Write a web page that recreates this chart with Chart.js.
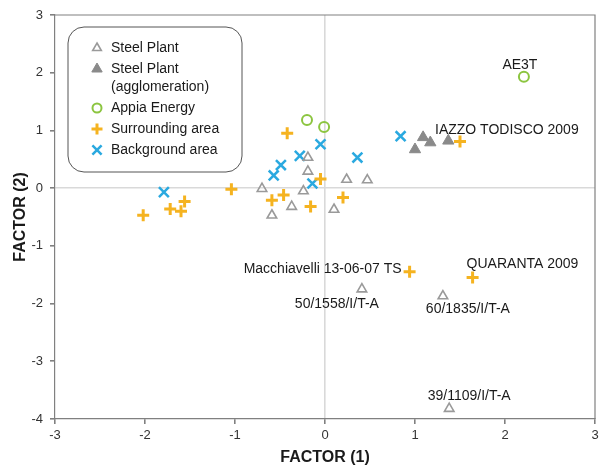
<!DOCTYPE html>
<html>
<head>
<meta charset="utf-8">
<script src="https://cdn.jsdelivr.net/npm/chart.js@4"></script>
<style>
  html, body { margin: 0; padding: 0; background: #fff; }
</style>
</head>
<body>
<canvas id="chart" width="599" height="470"></canvas>
<script>
// Factor scores: [FACTOR (1), FACTOR (2)]
const steelPlant = [
  [-0.70, -0.01], [-0.59, -0.47], [-0.37, -0.32], [-0.24, -0.05],
  [-0.19, 0.53], [-0.19, 0.29], [0.10, -0.37], [0.24, 0.15],
  [0.47, 0.14], [0.41, -1.75], [1.31, -1.87], [1.38, -3.82]
];
const steelAgglo = [[1.09, 0.88], [1.17, 0.79], [1.00, 0.67], [1.37, 0.82]];
const appiaEnergy = [[-0.20, 1.18], [-0.01, 1.06], [2.21, 1.93]];
const surrounding = [
  [-2.02, -0.47], [-1.72, -0.36], [-1.60, -0.40], [-1.56, -0.23],
  [-1.04, -0.02], [-0.59, -0.21], [-0.46, -0.12], [-0.42, 0.95],
  [-0.16, -0.32], [-0.05, 0.16], [0.20, -0.16], [1.50, 0.81],
  [0.94, -1.45], [1.64, -1.55]
];
const background = [
  [-1.79, -0.07], [-0.57, 0.22], [-0.49, 0.40], [-0.28, 0.56],
  [-0.14, 0.08], [-0.05, 0.76], [0.36, 0.53], [0.84, 0.90]
];

// named samples and the point each one belongs to
const noteTexts = ['AE3T', 'IAZZO TODISCO 2009', 'Macchiavelli 13-06-07 TS', 'QUARANTA 2009',
  '50/1558/I/T-A', '60/1835/I/T-A', '39/1109/I/T-A'];
const notePoints = [[2.21, 1.93], [1.50, 0.81], [0.94, -1.45], [1.64, -1.55],
  [0.41, -1.75], [1.31, -1.87], [1.38, -3.82]];

const xTicks = [-3, -2, -1, 0, 1, 2, 3];
const yTicks = [-4, -3, -2, -1, 0, 1, 2, 3];

const FONT = '"Liberation Sans", Arial, Helvetica, sans-serif';
const toXY = arr => arr.map(p => ({ x: p[0], y: p[1] }));

// where each note sits relative to its point (pixels)
const noteOffsets = [
  { dx: -4, dy: -12, align: 'center' },
  { dx: -25, dy: -11, align: 'left' },
  { dx: -8, dy: -3, align: 'right' },
  { dx: -6, dy: -13, align: 'left' },
  { dx: -25, dy: 15, align: 'center' },
  { dx: 25, dy: 13, align: 'center' },
  { dx: 20, dy: -12, align: 'center' }
];

const pointNotes = {
  id: 'pointNotes',
  afterDatasetsDraw(chart) {
    const { ctx, scales } = chart;
    ctx.save();
    ctx.font = '14px ' + FONT;
    ctx.fillStyle = '#1a1a1a';
    ctx.textBaseline = 'middle';
    noteTexts.forEach((t, i) => {
      const o = noteOffsets[i];
      const px = scales.x.getPixelForValue(notePoints[i][0]);
      const py = scales.y.getPixelForValue(notePoints[i][1]);
      ctx.textAlign = o.align;
      ctx.fillText(t, px + o.dx, py + o.dy);
    });
    ctx.restore();
  }
};

// top and right edges of the plot frame
const frame = {
  id: 'frame',
  beforeDatasetsDraw(chart) {
    const { ctx, chartArea: a } = chart;
    ctx.save();
    ctx.strokeStyle = '#808080';
    ctx.lineWidth = 1.2;
    ctx.beginPath();
    ctx.moveTo(a.left, a.top);
    ctx.lineTo(a.right, a.top);
    ctx.lineTo(a.right, a.bottom);
    ctx.stroke();
    ctx.restore();
  }
};

// legend drawn inside the plot, in a rounded box
const legendBox = {
  id: 'legendBox',
  afterDatasetsDraw(chart) {
    const ctx = chart.ctx;
    const x0 = 68, y0 = 27, w = 174, h = 145, r = 16;
    ctx.save();
    ctx.beginPath();
    ctx.moveTo(x0 + r, y0);
    ctx.arcTo(x0 + w, y0, x0 + w, y0 + h, r);
    ctx.arcTo(x0 + w, y0 + h, x0, y0 + h, r);
    ctx.arcTo(x0, y0 + h, x0, y0, r);
    ctx.arcTo(x0, y0, x0 + w, y0, r);
    ctx.closePath();
    ctx.fillStyle = '#fff';
    ctx.fill();
    ctx.strokeStyle = '#555';
    ctx.lineWidth = 1;
    ctx.stroke();

    ctx.font = '14px ' + FONT;
    ctx.textBaseline = 'middle';
    ctx.textAlign = 'left';
    let y = 48;
    chart.data.datasets.forEach(ds => {
      ctx.fillStyle = ds.backgroundColor;
      ctx.strokeStyle = ds.borderColor;
      ctx.lineWidth = ds.borderWidth;
      Chart.helpers.drawPoint(ctx, {
        pointStyle: ds.pointStyle, radius: ds.pointRadius - 0.5,
        borderWidth: ds.borderWidth, rotation: 0
      }, 97, y);
      const lines = ds.label.split('\n');
      ctx.fillStyle = '#1a1a1a';
      lines.forEach((t, i) => ctx.fillText(t, 111, y + i * 18));
      y += 21 + (lines.length - 1) * 18;
    });
    ctx.restore();
  }
};

const canvas = document.getElementById('chart');
const ctx = canvas.getContext('2d');

const chart = new Chart(ctx, {
  type: 'scatter',
  data: {
    datasets: [
      {
        label: 'Steel Plant',
        data: toXY(steelPlant),
        pointStyle: 'triangle',
        pointRadius: 5.5,
        backgroundColor: 'rgba(255,255,255,0)',
        borderColor: '#9a9a9a',
        borderWidth: 1.6
      },
      {
        label: 'Steel Plant\n(agglomeration)',
        data: toXY(steelAgglo),
        pointStyle: 'triangle',
        pointRadius: 6.5,
        backgroundColor: '#8a8a8a',
        borderColor: '#8a8a8a',
        borderWidth: 1
      },
      {
        label: 'Appia Energy',
        data: toXY(appiaEnergy),
        pointStyle: 'circle',
        pointRadius: 5,
        backgroundColor: 'rgba(255,255,255,0)',
        borderColor: '#8cc540',
        borderWidth: 2
      },
      {
        label: 'Surrounding area',
        data: toXY(surrounding),
        pointStyle: 'cross',
        pointRadius: 6,
        backgroundColor: '#f5b320',
        borderColor: '#f5b320',
        borderWidth: 3
      },
      {
        label: 'Background area',
        data: toXY(background),
        pointStyle: 'crossRot',
        pointRadius: 7,
        backgroundColor: '#2aa9e0',
        borderColor: '#2aa9e0',
        borderWidth: 2.5
      }
    ]
  },
  options: {
    responsive: false,
    animation: false,
    layout: { autoPadding: false, padding: { top: 15, right: 4, left: 0, bottom: 0 } },
    plugins: {
      legend: { display: false },
      tooltip: { enabled: false }
    },
    scales: {
      x: {
        type: 'linear',
        min: -3,
        max: 3,
        afterBuildTicks: s => { s.ticks = xTicks.map(v => ({ value: v })); },
        afterFit: s => { s.height = 51; s.paddingLeft = 0; s.paddingRight = 0; },
        ticks: { color: '#333', font: { family: FONT, size: 13 }, padding: 4 },
        grid: {
          color: c => (c.tick && c.tick.value === 0 ? '#d9d9d9' : 'rgba(0,0,0,0)'),
          lineWidth: 1.6,
          tickColor: '#808080',
          tickLength: 5
        },
        border: { color: '#808080', width: 1.2 },
        title: {
          display: true,
          text: 'FACTOR (1)',
          color: '#1a1a1a',
          font: { family: FONT, size: 16, weight: 'bold' },
          padding: { top: 0, bottom: 3 }
        }
      },
      y: {
        type: 'linear',
        min: -4,
        max: 3,
        afterBuildTicks: s => { s.ticks = yTicks.map(v => ({ value: v })); },
        afterFit: s => { s.width = 55; s.paddingTop = 0; s.paddingBottom = 0; },
        ticks: { color: '#333', font: { family: FONT, size: 13 }, padding: 7 },
        grid: {
          color: c => (c.tick && c.tick.value === 0 ? '#d9d9d9' : 'rgba(0,0,0,0)'),
          lineWidth: 1.6,
          tickColor: '#808080',
          tickLength: 5
        },
        border: { color: '#808080', width: 1.2 },
        title: {
          display: true,
          text: 'FACTOR (2)',
          color: '#1a1a1a',
          font: { family: FONT, size: 16, weight: 'bold' },
          padding: { top: 11, bottom: 0 }
        }
      }
    }
  },
  plugins: [frame, pointNotes, legendBox]
});
</script>
</body>
</html>
